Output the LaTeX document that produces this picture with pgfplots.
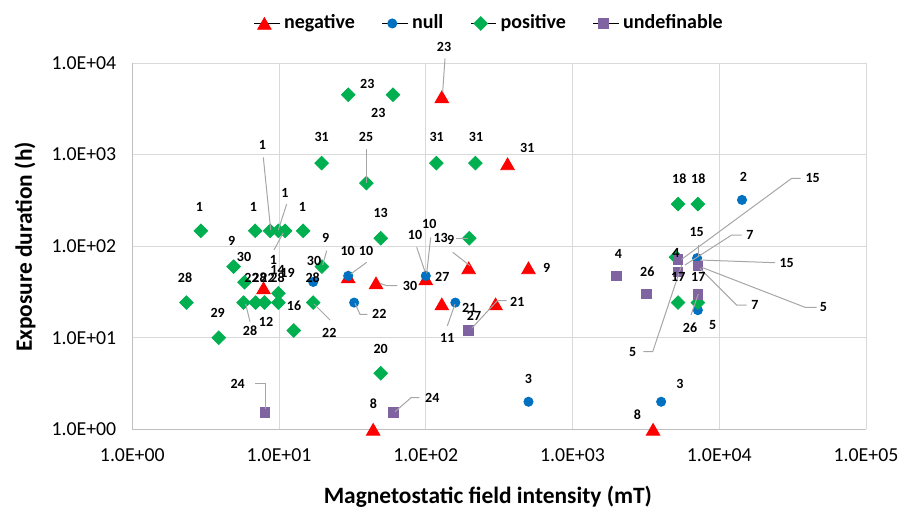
\documentclass[border=0pt]{standalone}
\usepackage{fontspec}
\setmainfont{Carlito}
\usepackage{pgfplots}
\usepackage{pgfplotstable}
\pgfplotsset{compat=1.18}

\definecolor{neg}{HTML}{FF0000}
\definecolor{nul}{HTML}{0070C0}
\definecolor{pos}{HTML}{00B050}
\definecolor{und}{HTML}{8064A2}
\definecolor{gridc}{HTML}{D9D9D9}
\definecolor{axc}{HTML}{BFBFBF}
\definecolor{leadc}{HTML}{A6A6A6}

% field intensity (mT), exposure duration (h)
\pgfplotstableread{
x y
7.84 35.0
29.6 46.2
45.8 39.7
100 43.9
196 58.0
501 58.0
128.6 23.4
299 23.4
43.8 1.0
128.6 4285
361 794
3540 1.0
}\negtab

\pgfplotstableread{
x y
17.1 40.7
29.6 47.4
100 47.4
32.5 24.2
159 24.2
501 2.0
4018 2.0
14290 320
7063 74
7146 20
}\nultab

\pgfplotstableread{
x y
2.93 147
6.88 147
8.7 147
9.9 147
11.0 147
14.6 147
4.9 59.8
19.6 59.8
5.82 40.4
9.9 30.6
2.34 24.2
5.73 24.2
6.92 24.2
7.96 24.2
9.9 24.2
17.1 24.2
12.6 12.0
3.88 10.0
29.6 4505
59.8 4505
19.5 807
39.4 488
118 807
218 807
49.3 122
198 122
49.3 4.09
5236 288
7146 288
5236 24.2
7146 24.2
5070 75.8
}\postab

\pgfplotstableread{
x y
1995 47.4
3187 30.1
5226 71.4
5226 52.4
7146 60.9
7146 29.9
8.02 1.52
59.8 1.52
196 12.0
}\undtab

\begin{document}
\begin{tikzpicture}
\path[use as bounding box] (0,0) rectangle (451.5pt,255.5pt);
\begin{axis}[
    at={(66.15pt,40.85pt)}, anchor=south west,
    scale only axis, width=366.85pt, height=183.15pt,
    xmode=log, ymode=log,
    xmin=1, xmax=1e5, ymin=1, ymax=1e4,
    xtick={1,10,100,1000,10000,100000},
    xticklabels={1.0E+00,1.0E+01,1.0E+02,1.0E+03,1.0E+04,1.0E+05},
    ytick={1,10,100,1000,10000},
    yticklabels={1.0E+00,1.0E+01,1.0E+02,1.0E+03,1.0E+04},
    major tick length=0pt, minor tick length=0pt,
    grid=major, major grid style={draw=gridc, line width=0.5pt},
    axis x line*=bottom, axis y line*=left,
    axis line style={draw=axc, line width=0.6pt, -},
    tick label style={font=\fontsize{9.9}{11}\selectfont, black},
    xticklabel style={yshift=-6pt},
    yticklabel style={xshift=-4.5pt},
    xlabel={Magnetostatic field intensity (mT)},
    ylabel={Exposure duration (h)},
    xlabel style={at={(axis description cs:0.4846,-0.1848)}, anchor=center,
        font=\bfseries\fontsize{11.7}{14}\selectfont},
    ylabel style={at={(axis description cs:-0.1462,0.4977)}, anchor=center,
        font=\bfseries\fontsize{11.7}{14}\selectfont},
    clip=false,
    mk/.style={only marks,
        legend image code/.code={
            \path (0pt,0pt) -- (12.7pt,0pt);
            \draw[##1] plot coordinates {(5pt,0pt)};}},
    legend columns=4,
    legend style={at={(axis description cs:0.488,1.108)}, anchor=center,
        draw=none, fill=none,
        font=\bfseries\fontsize{10}{12}\selectfont,
        /tikz/every odd column/.append style={column sep=0pt},
        /tikz/every even column/.append style={column sep=11.5pt}},
  ]
  \addplot[mk, mark=triangle*, mark size=3.9pt,
      mark options={draw=neg, fill=neg, yshift=-1pt}] table {\negtab};
  \addplot[mk, mark=*, mark size=2.3pt,
      mark options={draw=nul, fill=nul}] table {\nultab};
  \addplot[mk, mark=square*, mark size=2.4pt,
      mark options={draw=pos, fill=pos, rotate=45}] table {\postab};
  \addplot[mk, mark=square*, mark size=2.45pt,
      mark options={draw=und, fill=und}] table {\undtab};
  \legend{negative,null,positive,undefinable}
\end{axis}

% data labels and their leader lines, placed in picture pixels
\begin{scope}[x=0.5pt, y=-0.5pt, shift={(0pt,255.5pt)},
    lbl/.style={font=\bfseries\fontsize{7}{8}\selectfont, inner sep=0pt},
    ld/.style={draw=leadc, line width=0.5pt}]
  \draw[ld] (263.3,157.3) -- (270.7,230);
  \draw[ld] (286.7,204) -- (278.3,230);
  \draw[ld] (274,250) -- (283.3,232.7);
  \draw[ld] (326.7,250.7) -- (322.7,265);
  \draw[ld] (250,321.7) -- (245.7,304);
  \draw[ld] (330,320) -- (314,304);
  \draw[ld] (445,58.3) -- (442.7,91.7);
  \draw[ld] (366,149.3) -- (366,182.7);
  \draw[ld] (430.7,237.3) -- (426.7,273.3);
  \draw[ld] (416.7,247.3) -- (425,271.7);
  \draw[ld] (456,238) -- (468,238);
  \draw[ld] (452.7,252.3) -- (470,265.7);
  \draw[ld] (366.7,262.3) -- (350.7,274);
  \draw[ld] (397.3,285.7) -- (386.7,285.7) -- (380,283.3);
  \draw[ld] (367.3,314.3) -- (360,314.3) -- (355,303.3);
  \draw[ld] (447.3,326) -- (455,304);
  \draw[ld] (506.7,300.7) -- (497.3,300.7) -- (471.7,328.3);
  \draw[ld] (419.3,397.7) -- (411,397.7) -- (395,411.7);
  \draw[ld] (255,383.3) -- (265.5,383.3) -- (265.5,409);
  \draw[ld] (800.7,178.3) -- (791.7,178.3) -- (681.7,259.3);
  \draw[ld] (698.3,245) -- (698.3,256);
  \draw[ld] (741.7,235) -- (731.7,235) -- (685,265);
  \draw[ld] (775,262.7) -- (700,260);
  \draw[ld] (746.7,305) -- (736.7,305) -- (700,268.3);
  \draw[ld] (816.7,307.3) -- (805,307.3) -- (701.7,267.3);
  \draw[ld] (691,315) -- (698.3,294);
  \draw[ld] (643.3,351.7) -- (652.7,351.7) -- (681.7,265);

  \node[lbl] at (262.3,145) {1};
  \node[lbl] at (285,192.7) {1};
  \node[lbl] at (199.3,207.3) {1};
  \node[lbl] at (253.3,207.3) {1};
  \node[lbl] at (302.3,207.3) {1};
  \node[lbl] at (273.3,260) {1};
  \node[lbl] at (231.7,241) {9};
  \node[lbl] at (244,257.3) {30};
  \node[lbl] at (325.7,238.3) {9};
  \node[lbl] at (314,260.7) {30};
  \node[lbl] at (312.7,277.3) {28};
  \node[lbl] at (185,277.3) {28};
  \node[lbl] at (251.5,277.5) {22};
  \node[lbl] at (259.5,277.5) {28};
  \node[lbl] at (267.5,277.5) {22};
  \node[lbl] at (277.5,277.5) {28};
  \node[lbl] at (277.5,269.5) {14};
  \node[lbl] at (287.5,272.5) {19};
  \node[lbl] at (217.7,312.7) {29};
  \node[lbl] at (294,305.7) {16};
  \node[lbl] at (266,321.7) {12};
  \node[lbl] at (250,330.7) {28};
  \node[lbl] at (329.3,332.7) {22};
  \node[lbl] at (321.7,137.3) {31};
  \node[lbl] at (444,46.7) {23};
  \node[lbl] at (367.3,84.3) {23};
  \node[lbl] at (378.3,113.3) {23};
  \node[lbl] at (366,137.3) {25};
  \node[lbl] at (436.7,137.3) {31};
  \node[lbl] at (476,137.3) {31};
  \node[lbl] at (527.3,148.3) {31};
  \node[lbl] at (380.7,213.3) {13};
  \node[lbl] at (429.3,224.3) {10};
  \node[lbl] at (415,235) {10};
  \node[lbl] at (440.7,237.7) {13};
  \node[lbl] at (450.7,240) {9};
  \node[lbl] at (347.7,250.7) {10};
  \node[lbl] at (366,250.7) {10};
  \node[lbl] at (442.3,277.3) {27};
  \node[lbl] at (410,285.7) {30};
  \node[lbl] at (379.3,314.3) {22};
  \node[lbl] at (469.3,308.3) {21};
  \node[lbl] at (474,315.7) {27};
  \node[lbl] at (447.3,338.3) {11};
  \node[lbl] at (517.3,301.7) {21};
  \node[lbl] at (546.7,267.7) {9};
  \node[lbl] at (380.7,349.3) {20};
  \node[lbl] at (373.3,404) {8};
  \node[lbl] at (432.3,397.7) {24};
  \node[lbl] at (528.3,379.3) {3};
  \node[lbl] at (237.7,384) {24};
  \node[lbl] at (679.3,178.3) {18};
  \node[lbl] at (698.3,178.3) {18};
  \node[lbl] at (743.3,177.3) {2};
  \node[lbl] at (812.7,178.3) {15};
  \node[lbl] at (696.7,231.7) {15};
  \node[lbl] at (750,235) {7};
  \node[lbl] at (618.3,254) {4};
  \node[lbl] at (676,252.7) {4};
  \node[lbl] at (786.7,262.7) {15};
  \node[lbl] at (647.3,271.7) {26};
  \node[lbl] at (678.3,277.3) {17};
  \node[lbl] at (698.3,277.3) {17};
  \node[lbl] at (755,305) {7};
  \node[lbl] at (823.3,307.3) {5};
  \node[lbl] at (690,327.3) {26};
  \node[lbl] at (712.7,325) {5};
  \node[lbl] at (632.7,351.7) {5};
  \node[lbl] at (680,384) {3};
  \node[lbl] at (637.3,415) {8};
\end{scope}
\end{tikzpicture}
\end{document}
